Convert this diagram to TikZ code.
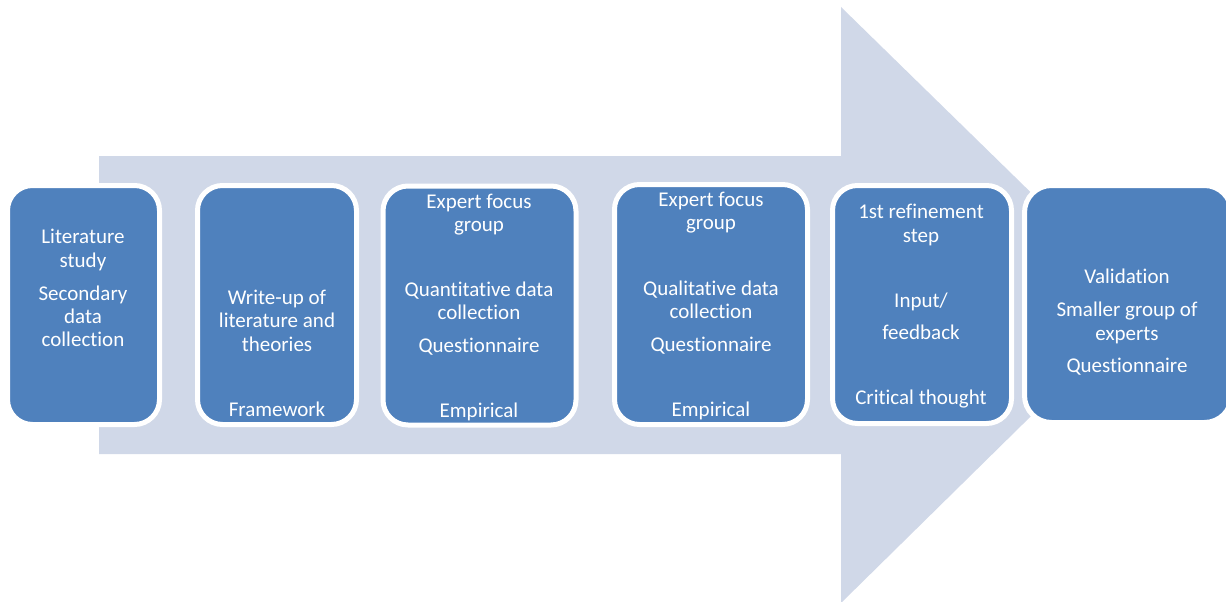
\documentclass[tikz,border=0pt]{standalone}
\usepackage{fontspec}
\setmainfont{Carlito}[Ligatures=NoCommon]
\definecolor{stepblue}{HTML}{4F81BD}
\definecolor{arrowgrey}{HTML}{D0D8E8}
\begin{document}
\begin{tikzpicture}[x=1pt,y=-1pt,
  stepbox/.style={rectangle, fill=stepblue, draw=white, line width=5pt,
    rounded corners=25pt, inner sep=0pt},
  steptext/.style={text=white, font=\fontsize{21}{24}\selectfont,
    anchor=base, inner sep=0pt}]
\useasboundingbox (0,0) rectangle (1226,602);

% broad background arrow
\fill[arrowgrey] (99,156) -- (841,156) -- (841,7) -- (1145,304)
  -- (841,603) -- (841,454) -- (99,454) -- cycle;

% process steps
\node[stepbox, minimum width=152pt, minimum height=239pt] (b1) at (83.5,305) {};
\node[stepbox, minimum width=159pt, minimum height=239pt] (b2) at (277,305) {};
\node[stepbox, minimum width=193pt, minimum height=239pt] (b3) at (479.5,305.5) {};
\node[stepbox, minimum width=193pt, minimum height=240pt] (b4) at (711,304.5) {};
\node[stepbox, minimum width=179pt, minimum height=238pt] (b5) at (922,304.5) {};
\node[stepbox, minimum width=207pt, minimum height=237pt, rounded corners=27pt] (b6) at (1128,304) {};

% step 1
\node[steptext] (t1a) at (83,243) {Literature};
\node[steptext] (t1b) at (83,267) {study};
\node[steptext] (t1c) at (83,300) {Secondary};
\node[steptext] (t1d) at (83,323) {data};
\node[steptext] (t1e) at (83,346) {collection};

% step 2
\node[steptext] (t2a) at (277,304) {Write-up of};
\node[steptext] (t2b) at (277,327) {literature and};
\node[steptext] (t2c) at (277,351) {theories};
\node[steptext] (t2d) at (277,416) {Framework};

% step 3
\node[steptext] (t3a) at (479,208) {Expert focus};
\node[steptext] (t3b) at (479,231) {group};
\node[steptext] (t3c) at (479,296) {Quantitative data};
\node[steptext] (t3d) at (479,319) {collection};
\node[steptext] (t3e) at (479,352) {Questionnaire};
\node[steptext] (t3f) at (479,417) {Empirical};

% step 4
\node[steptext] (t4a) at (711,206) {Expert focus};
\node[steptext] (t4b) at (711,229) {group};
\node[steptext] (t4c) at (711,295) {Qualitative data};
\node[steptext] (t4d) at (711,318) {collection};
\node[steptext] (t4e) at (711,351) {Questionnaire};
\node[steptext] (t4f) at (711,416) {Empirical};

% step 5
\node[steptext] (t5a) at (921,218) {1st refinement};
\node[steptext] (t5b) at (921,242) {step};
\node[steptext] (t5c) at (921,307) {Input/};
\node[steptext] (t5d) at (921,339) {feedback};
\node[steptext] (t5e) at (921,404) {Critical thought};

% step 6
\node[steptext] (t6a) at (1127,283) {Validation};
\node[steptext] (t6b) at (1127,316) {Smaller group of};
\node[steptext] (t6c) at (1127,340) {experts};
\node[steptext] (t6d) at (1127,372) {Questionnaire};
\end{tikzpicture}
\end{document}
